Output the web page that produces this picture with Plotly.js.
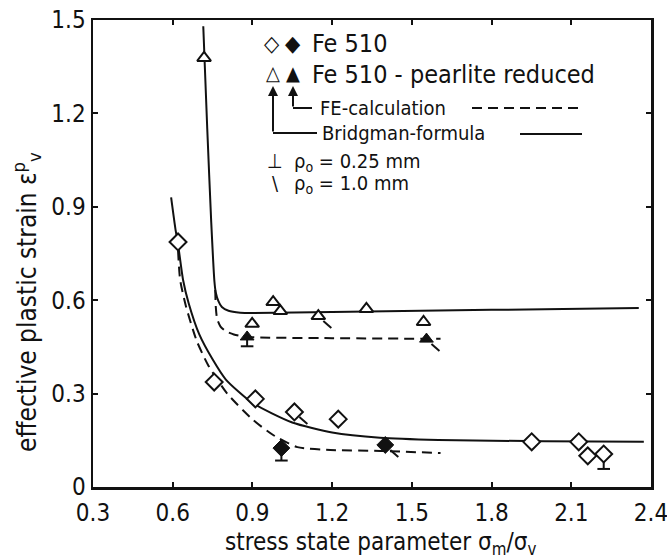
<!DOCTYPE html>
<html>
<head>
<meta charset="utf-8">
<script src="https://cdn.plot.ly/plotly-3.0.1.min.js"></script>
<style>html,body{margin:0;padding:0;background:#fff;}#chart{width:667px;height:559px;}</style>
</head>
<body>
<div id="chart"></div>
<script>
// ---------- data ----------
// Fe510: experiments (open diamonds) and FE calculation (filled diamonds)
const fe510X = [0.62, 0.756, 0.911, 1.058, 1.223, 1.951, 2.128, 2.162, 2.222];
const fe510Y = [0.787, 0.337, 0.283, 0.241, 0.218, 0.145, 0.145, 0.100, 0.106];
const fe510FeX = [1.009, 1.400];
const fe510FeY = [0.125, 0.135];
// Fe510 - pearlite reduced: open triangles and filled triangles
const prX = [0.718, 0.899, 0.978, 1.005, 1.148, 1.329, 1.544];
const prY = [1.378, 0.524, 0.594, 0.565, 0.549, 0.572, 0.530];
const prFeX = [0.880, 1.555];
const prFeY = [0.482, 0.475];
// rho0 = 1.0 mm points (tail "\")
const tailX = [1.058, 1.400, 1.148, 1.555];
const tailY = [0.241, 0.135, 0.549, 0.475];
// rho0 = 0.25 mm points (bar down with foot)
const barX = [2.222, 1.009, 0.880];
const barTop = [0.106, 0.152, 0.482];
const barBottom = [0.058, 0.085, 0.452];
// curves
const bridgPrX = [0.715, 0.730, 0.745, 0.757, 0.762, 0.772, 0.785, 0.810, 0.854, 0.90, 1.20, 1.60, 2.00, 2.354];
const bridgPrY = [1.48, 1.15, 0.85, 0.66, 0.625, 0.597, 0.578, 0.566, 0.560, 0.559, 0.562, 0.567, 0.571, 0.575];
const fePrX = [0.760, 0.762, 0.767, 0.780, 0.800, 0.830, 0.880, 1.20, 1.608];
const fePrY = [0.633, 0.580, 0.540, 0.515, 0.500, 0.490, 0.482, 0.478, 0.476];
const bridgFeX = [0.594, 0.610, 0.620, 0.639, 0.660, 0.700, 0.750, 0.800, 0.900, 1.050, 1.200, 1.380, 1.600, 2.000, 2.373];
const bridgFeY = [0.930, 0.830, 0.780, 0.665, 0.590, 0.490, 0.410, 0.345, 0.270, 0.207, 0.175, 0.158, 0.151, 0.147, 0.145];
const feFeX = [0.620, 0.628, 0.650, 0.690, 0.733, 0.805, 0.903, 0.978, 1.069, 1.193, 1.382, 1.608];
const feFeY = [0.760, 0.665, 0.580, 0.470, 0.392, 0.300, 0.215, 0.167, 0.128, 0.119, 0.116, 0.109];
const xTicks = [0.3, 0.6, 0.9, 1.2, 1.5, 1.8, 2.1, 2.4];
const xTickText = ["0.3", "0.6", "0.9", "1.2", "1.5", "1.8", "2.1", "2.4"];
const yTicks = [0, 0.3, 0.6, 0.9, 1.2, 1.5];
const yTickText = ["0", "0.3", "0.6", "0.9", "1.2", "1.5"];

// ---------- geometry ----------
const L = 93, R = 651, T = 20, B = 487;
const px = x => (x - L) / (R - L);
const py = y => (B - y) / (B - T);
const dxPx = 2.1 / (R - L), dyPx = 1.5 / (B - T);

const INK = '#111';
const FONT = '"DejaVu Sans Condensed", "DejaVu Sans", sans-serif';
const TICKFONT = '"DejaVu Sans Condensed", "DejaVu Sans", sans-serif';

// tails built from the points
const tX = [], tY = [];
tailX.forEach((x, i) => { tX.push(x + 5 * dxPx, x + 13 * dxPx, null); tY.push(tailY[i] - 5 * dyPx, tailY[i] - 12 * dyPx, null); });
const bX = [], bY = [];
barX.forEach((x, i) => { bX.push(x, x, null); bY.push(barTop[i], barBottom[i], null); });

const traces = [
  {x: bridgPrX, y: bridgPrY, mode: 'lines', line: {color: INK, width: 2, shape: 'spline', smoothing: 0.6}},
  {x: fePrX, y: fePrY, mode: 'lines', line: {color: INK, width: 2, dash: '10px,6px', shape: 'spline', smoothing: 0.6}},
  {x: bridgFeX, y: bridgFeY, mode: 'lines', line: {color: INK, width: 2, shape: 'spline', smoothing: 0.6}},
  {x: feFeX, y: feFeY, mode: 'lines', line: {color: INK, width: 2, dash: '10px,6px', shape: 'spline', smoothing: 0.6}},
  {x: tX, y: tY, mode: 'lines', line: {color: INK, width: 2}},
  {x: bX, y: bY, mode: 'lines', line: {color: INK, width: 2}},
  {x: barX, y: barBottom, mode: 'markers', marker: {symbol: 'line-ew', size: 9, line: {color: INK, width: 2}}},
  {x: fe510X, y: fe510Y, mode: 'markers', marker: {symbol: 'diamond', size: 13, color: '#fff', line: {color: INK, width: 2}}},
  {x: fe510FeX, y: fe510FeY, mode: 'markers', marker: {symbol: 'diamond', size: 13, color: INK, line: {color: INK, width: 1}}},
  {x: prX, y: prY, mode: 'markers', marker: {symbol: 'triangle-up', size: 12, color: '#fff', line: {color: INK, width: 2}}},
  {x: prFeX, y: prFeY, mode: 'markers', marker: {symbol: 'triangle-up', size: 12, color: INK, line: {color: INK, width: 1}}}
].map(t => Object.assign({showlegend: false, hoverinfo: 'skip', cliponaxis: false}, t));

const ann = (x, y, text, size, extra) => Object.assign({
  xref: 'paper', yref: 'paper', x: px(x), y: py(y), text: text, showarrow: false,
  xanchor: 'left', yanchor: 'middle', font: {family: FONT, size: size, color: INK}
}, extra || {});

const annotations = [
  ann(272, 43, '◇', 22, {xanchor: 'center'}),
  ann(293, 43, '◆', 22, {xanchor: 'center'}),
  ann(310, 43, 'Fe 510', 25),
  ann(273, 73, '△', 20, {xanchor: 'center'}),
  ann(293, 73, '▲', 20, {xanchor: 'center'}),
  ann(310, 74, 'Fe 510 - pearlite reduced', 25),
  ann(318, 108, 'FE-calculation', 20),
  ann(320, 133, 'Bridgman-formula', 20),
  ann(275, 161, '⊥', 20, {xanchor: 'center'}),
  ann(292, 162, 'ρ<sub>o</sub> = 0.25 mm', 20),
  ann(275, 183, '\\', 20, {xanchor: 'center'}),
  ann(292, 184, 'ρ<sub>o</sub> = 1.0 mm', 20),
  {xref: 'paper', yref: 'paper', x: px(273), y: py(86), ax: 0, ay: 47, text: '', showarrow: true,
   arrowhead: 2, arrowsize: 1, arrowwidth: 2, arrowcolor: INK},
  {xref: 'paper', yref: 'paper', x: px(293), y: py(86), ax: 0, ay: 22, text: '', showarrow: true,
   arrowhead: 2, arrowsize: 1, arrowwidth: 2, arrowcolor: INK},
  ann(380, 543, 'stress state parameter σ<sub>m</sub>/σ<sub>v</sub>', 24, {xanchor: 'center'}),
  ann(26, 302, 'effective plastic strain ε<sup>p</sup><sub>v</sub>', 26, {xanchor: 'center', textangle: -90})
];

const seg = (x0, y0, x1, y1, dash) => ({type: 'line', xref: 'paper', yref: 'paper',
  x0: px(x0), y0: py(y0), x1: px(x1), y1: py(y1), line: {color: INK, width: 2, dash: dash || 'solid'}});

const shapes = [
  seg(273, 133, 317, 133),
  seg(293, 108, 312, 108),
  seg(472, 108, 582, 108, '10px,6px'),
  seg(520, 134, 582, 134)
];

const axisBase = {
  showgrid: false, zeroline: false, showline: true, linecolor: INK, linewidth: 2.5,
  mirror: 'ticks', ticks: 'inside', ticklen: 5, tickwidth: 2, tickcolor: INK,
  tickmode: 'array', tickfont: {family: TICKFONT, size: 24, color: INK}, ticklabeloverflow: 'allow'
};

const layout = {
  width: 667, height: 559,
  margin: {l: L, r: 667 - R, t: T, b: 559 - B},
  paper_bgcolor: '#fff', plot_bgcolor: '#fff',
  xaxis: Object.assign({}, axisBase, {range: [0.3, 2.4], tickvals: xTicks, ticktext: xTickText, ticklabelstandoff: 3}),
  yaxis: Object.assign({}, axisBase, {range: [0, 1.5], tickvals: yTicks, ticktext: yTickText}),
  annotations: annotations,
  shapes: shapes
};

Plotly.newPlot('chart', traces, layout, {displayModeBar: false, staticPlot: true});
</script>
</body>
</html>
